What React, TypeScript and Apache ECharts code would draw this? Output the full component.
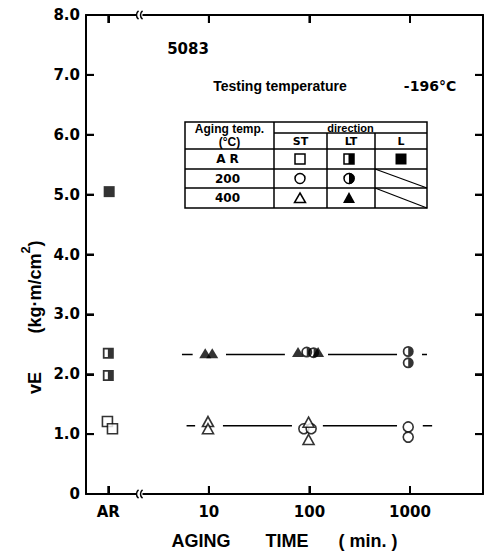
import React, { useEffect, useRef } from 'react';
import * as echarts from 'echarts';

// ---- data ----
const xTickTimes = [1, 10, 100, 1000]; // AR plotted at position of 1 min
const xTickLabels = ['AR', '10', '100', '1000'];
const xMinTime = 0.6;
const xMaxTime = 5320;
const yMin = 0;
const yMax = 8;
const yStep = 1;
const yTickValues = [1, 2, 3, 4, 5, 6, 7];

// [aging time (min), vE]
const arST = [[0.98, 1.21], [1.1, 1.09]];
const arLT = [[1.0, 2.35], [1.0, 1.98]];
const arL = [[1.02, 5.05]];
const t200ST = [[88, 1.09], [104, 1.09], [960, 1.12], [960, 0.95]];
const t200LT = [[94, 2.37], [110, 2.36], [960, 2.38], [960, 2.19]];
const t400ST = [[9.8, 1.21], [9.8, 1.09], [98, 1.2], [98, 0.91]];
const t400LT = [[9.2, 2.35], [10.8, 2.35], [77, 2.37], [122, 2.37]];

const meanUpper = 2.33;
const meanLower = 1.14;
const upperSegments = [[5.4, 6.9], [14.8, 57], [153, 743], [1316, 1476]];
const lowerSegments = [[6.0, 7.3], [13.8, 67], [136, 743], [1340, 1660]];

const DJ = '"DejaVu Sans"';
const LS = '"Liberation Sans"';

const pos = (t: number) => Math.log10(t);
const pts = (arr: number[][]) => arr.map(([t, v]) => [pos(t), v]);

const halfSquare = 'path://M0,0L10,0L10,10L0,10Z M1.6,1.6L1.6,8.4L4.6,8.4L4.6,1.6Z';
const halfCircle = 'path://M5,0A5,5,0,1,1,5,10A5,5,0,1,1,5,0Z M5,1.6A3.4,3.4,0,0,0,5,8.4Z';

const txt = (text: string, x: number, y: number, size: number, family: string, extra: any = {}) => ({
  type: 'text',
  x,
  y,
  z: 100,
  ...extra,
  style: {
    text,
    font: `bold ${size}px ${family}`,
    fill: '#000',
    textAlign: 'center',
    textVerticalAlign: 'middle',
    align: 'center',
    verticalAlign: 'middle',
    ...(extra.style || {}),
  },
});

const ln = (x1: number, y1: number, x2: number, y2: number, w = 1.5) => ({
  type: 'line',
  z: 100,
  shape: { x1, y1, x2, y2 },
  style: { stroke: '#000', lineWidth: w },
});

function tableGraphics(): any[] {
  const x0 = 185, x1 = 274, x2 = 327, x3 = 375, x4 = 427;
  const yTop = 122, yDir = 133, yHead = 149, yR1 = 169, yR2 = 188, yBot = 208;
  const cST = 300, cLT = 349, cL = 401;
  const r1 = (yHead + yR1) / 2, r2 = (yR1 + yR2) / 2, r3 = (yR2 + yBot) / 2;
  const open = { fill: '#fff', stroke: '#000', lineWidth: 1.5 };
  const solid = { fill: '#000' };
  return [
    { type: 'rect', z: 100, shape: { x: x0, y: yTop, width: x4 - x0, height: yBot - yTop }, style: { fill: 'none', stroke: '#000', lineWidth: 1.5 } },
    ln(x1, yTop, x1, yBot),
    ln(x2, yDir, x2, yBot),
    ln(x3, yDir, x3, yBot),
    ln(x1, yDir, x4, yDir),
    ln(x0, yHead, x4, yHead),
    ln(x0, yR1, x4, yR1),
    ln(x0, yR2, x4, yR2),
    ln(x3, yR1, x4, yR2, 1.2),
    ln(x3, yR2, x4, yBot, 1.2),
    txt('Aging temp.', (x0 + x1) / 2, 129, 12, LS),
    txt('(°C)', (x0 + x1) / 2, 142, 12, LS),
    txt('direction', (x1 + x4) / 2, 127.5, 11, LS),
    txt('ST', (x1 + x2) / 2, 141.5, 11, DJ),
    txt('LT', (x2 + x3) / 2, 141.5, 11, DJ),
    txt('L', (x3 + x4) / 2, 141.5, 11, DJ),
    txt('A R', (x0 + x1) / 2 - 2, r1, 12, DJ),
    txt('200', (x0 + x1) / 2 - 2, r2, 12, DJ),
    txt('400', (x0 + x1) / 2 - 2, r3, 12, DJ),
    { type: 'rect', z: 101, shape: { x: cST - 5, y: r1 - 5, width: 10, height: 10 }, style: open },
    { type: 'rect', z: 101, shape: { x: cLT - 5, y: r1 - 5, width: 10, height: 10 }, style: open },
    { type: 'rect', z: 102, shape: { x: cLT - 0.5, y: r1 - 5, width: 5.5, height: 10 }, style: solid },
    { type: 'rect', z: 101, shape: { x: cL - 5.5, y: r1 - 5.5, width: 11, height: 11 }, style: solid },
    { type: 'circle', z: 101, shape: { cx: cST, cy: r2, r: 5 }, style: open },
    { type: 'circle', z: 101, shape: { cx: cLT, cy: r2, r: 5 }, style: open },
    { type: 'sector', z: 102, shape: { cx: cLT, cy: r2, r: 5.7, r0: 0, startAngle: -Math.PI / 2, endAngle: Math.PI / 2 }, style: solid },
    { type: 'polygon', z: 101, shape: { points: [[cST, r3 - 5], [cST + 5.5, r3 + 4.5], [cST - 5.5, r3 + 4.5]] }, style: open },
    { type: 'polygon', z: 101, shape: { points: [[cLT, r3 - 6], [cLT + 6, r3 + 5], [cLT - 6, r3 + 5]] }, style: solid },
  ];
}

function breakMarks(cx: number, cy: number): any[] {
  const arcStyle = { stroke: '#000', lineWidth: 1.5, fill: 'none' };
  return [
    { type: 'rect', z: 99, shape: { x: cx - 3, y: cy - 2, width: 6, height: 4 }, style: { fill: '#fff' } },
    { type: 'arc', z: 100, shape: { cx: cx + 2, cy, r: 5, startAngle: Math.PI * 0.7, endAngle: Math.PI * 1.3 }, style: arcStyle },
    { type: 'arc', z: 100, shape: { cx: cx + 6, cy, r: 5, startAngle: Math.PI * 0.7, endAngle: Math.PI * 1.3 }, style: arcStyle },
  ];
}

export default function App() {
  const ref = useRef<HTMLDivElement>(null);

  useEffect(() => {
    if (!ref.current) return;
    const chart = echarts.init(ref.current, null, { renderer: 'svg' });
    const tickPos = xTickTimes.map(pos);
    const xLabel = (v: number) => {
      const i = tickPos.findIndex((p) => Math.abs(p - v) < 1e-6);
      return i >= 0 ? xTickLabels[i] : '';
    };
    const axisLine = () => ({ show: true, onZero: false, lineStyle: { color: '#000', width: 2 } });
    const tick = () => ({ show: true, inside: true, length: 8, lineStyle: { color: '#000', width: 2 } });

    const openStyle = { color: '#fff', borderColor: '#000', borderWidth: 1.6 };
    const solidStyle = { color: '#000' };
    const scatter = (data: number[][], symbol: string, size: any, itemStyle: any, z = 3) => ({
      type: 'scatter',
      data: pts(data),
      symbol,
      symbolSize: size,
      symbolKeepAspect: true,
      itemStyle,
      z,
      silent: true,
    });
    const segs = (segments: number[][], mean: number) =>
      segments.map(([a, b]) => ({
        type: 'line',
        data: [[pos(a), mean], [pos(b), mean]],
        symbol: 'none',
        lineStyle: { color: '#000', width: 1.6 },
        z: 1,
        silent: true,
      }));

    chart.setOption({
      animation: false,
      backgroundColor: '#fff',
      grid: { left: 86, right: 3, top: 15, bottom: 57 },
      xAxis: [
        {
          type: 'value',
          min: pos(xMinTime),
          max: pos(xMaxTime),
          axisLine: axisLine(),
          splitLine: { show: false },
          axisTick: { ...tick(), customValues: tickPos },
          axisLabel: {
            customValues: tickPos,
            formatter: xLabel,
            margin: 10,
            color: '#000',
            fontFamily: DJ,
            fontWeight: 'bold',
            fontSize: 15,
          },
          name: 'AGING       TIME      ( min. )',
          nameLocation: 'middle',
          nameGap: 38,
          nameTextStyle: { color: '#000', fontFamily: LS, fontWeight: 'bold', fontSize: 18 },
        },
        {
          type: 'value',
          position: 'top',
          min: pos(xMinTime),
          max: pos(xMaxTime),
          axisLine: axisLine(),
          splitLine: { show: false },
          axisTick: { ...tick(), customValues: tickPos },
          axisLabel: { show: false, customValues: tickPos },
        },
      ],
      yAxis: [
        {
          type: 'value',
          min: yMin,
          max: yMax,
          interval: yStep,
          axisLine: axisLine(),
          axisTick: tick(),
          splitLine: { show: false },
          axisLabel: {
            formatter: (v: number) => (v === 0 ? '0' : v.toFixed(1)),
            margin: 6,
            color: '#000',
            fontFamily: DJ,
            fontWeight: 'bold',
            fontSize: 15,
          },
        },
        {
          type: 'value',
          position: 'right',
          min: yMin,
          max: yMax,
          interval: yStep,
          axisLine: axisLine(),
          axisTick: tick(),
          splitLine: { show: false },
          axisLabel: { show: false },
        },
      ],
      series: [
        ...segs(upperSegments, meanUpper),
        ...segs(lowerSegments, meanLower),
        scatter(arST, 'rect', 10, openStyle),
        scatter(arLT, halfSquare, 11, solidStyle),
        scatter(arL, 'rect', 11, solidStyle),
        scatter(t200ST, 'circle', 10, openStyle),
        scatter(t200LT, halfCircle, 11, solidStyle),
        scatter(t400ST, 'triangle', [11, 10], openStyle),
        scatter(t400LT, 'triangle', [12, 10], solidStyle),
      ],
    });

    // tick marks placed through the library's own axis scales
    const tickLen = 8;
    const gx0 = chart.convertToPixel({ xAxisIndex: 0 } as any, pos(xMinTime)) as number;
    const gx1 = chart.convertToPixel({ xAxisIndex: 0 } as any, pos(xMaxTime)) as number;
    const gyBottom = chart.convertToPixel({ yAxisIndex: 0 } as any, yMin) as number;
    const gyTop = chart.convertToPixel({ yAxisIndex: 0 } as any, yMax) as number;
    const tickEls: any[] = [];
    yTickValues.forEach((v) => {
      const y = chart.convertToPixel({ yAxisIndex: 0 } as any, v) as number;
      tickEls.push(ln(gx0, y, gx0 + tickLen, y, 2));
      tickEls.push(ln(gx1, y, gx1 - tickLen, y, 2));
    });
    tickPos.forEach((p) => {
      const x = chart.convertToPixel({ xAxisIndex: 0 } as any, p) as number;
      tickEls.push(ln(x, gyBottom, x, gyBottom - tickLen, 2));
      tickEls.push(ln(x, gyTop, x, gyTop + tickLen, 2));
    });
    const bx = chart.convertToPixel({ xAxisIndex: 0 } as any, 0.31) as number;

    chart.setOption({
      graphic: [
        txt('5083', 188, 49, 15, DJ),
        txt('Testing temperature', 280, 86, 14, LS),
        txt('-196°C', 430, 86, 14, DJ),
        ...tableGraphics(),
        ...tickEls,
        ...breakMarks(bx, gyBottom),
        ...breakMarks(bx, gyTop),
        txt('vE', 35, 383, 18, LS, { rotation: Math.PI / 2 }),
        txt('(kg·m/cm{s|2})', 35, 287, 18, LS, {
          rotation: Math.PI / 2,
          style: {
            rich: {
              s: { font: `bold 13px ${LS}`, fill: '#000', padding: [0, 0, 20, 0] },
            },
          },
        }),
      ],
    });
    return () => chart.dispose();
  }, []);

  return (
    <div
      ref={ref}
      style={{ position: 'absolute', left: 0, top: 0, width: 486, height: 555, background: '#fff' }}
    />
  );
}
